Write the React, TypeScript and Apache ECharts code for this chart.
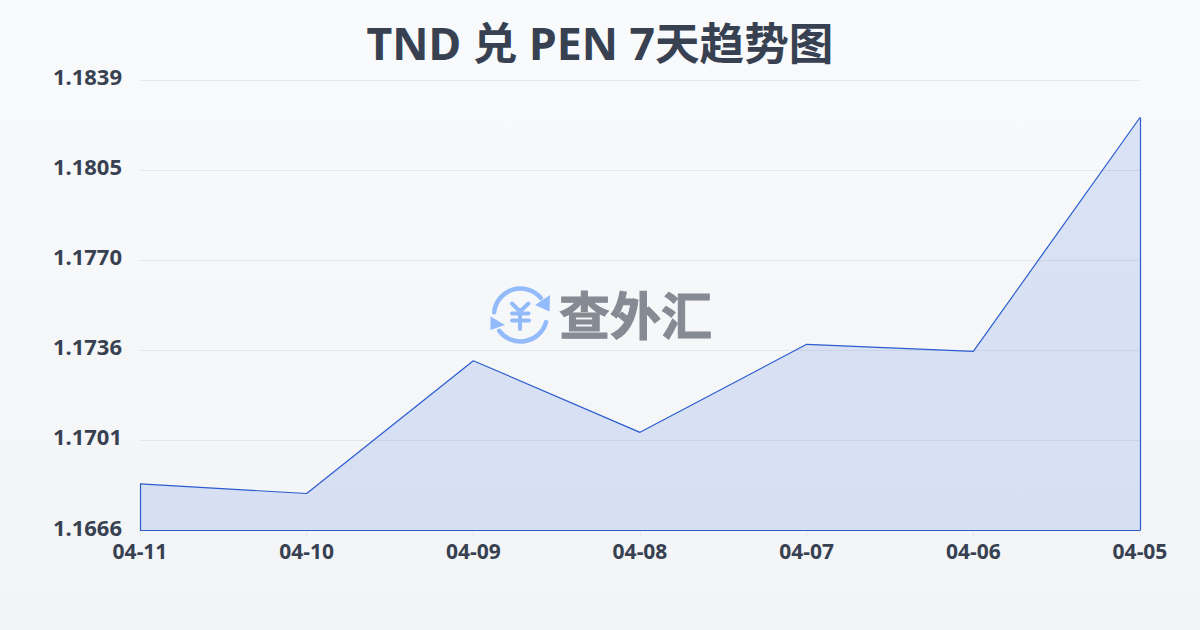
import React, { useEffect, useRef } from "react";
import * as echarts from "echarts";

const categories = ["04-11", "04-10", "04-09", "04-08", "04-07", "04-06", "04-05"];
const rates = [1.16842, 1.16805, 1.17315, 1.1704, 1.17378, 1.17351, 1.18249];
const yTicks = [1.16663, 1.17009, 1.17355, 1.17701, 1.18047, 1.18393];
const titleText = "TND 兑 PEN 7天趋势图";
const brandText = "查外汇";

const FONT = '"Noto Sans", "Noto Sans CJK SC", sans-serif';
const INK = "#374151";
const LINE = "#2a5cd0";
const ICON = "#93bbfb";

export default function App() {
  const ref = useRef<HTMLDivElement>(null);
  useEffect(() => {
    const chart = echarts.init(ref.current!, undefined, { renderer: "svg" });
    const yMin = yTicks[0];
    const yMax = yTicks[yTicks.length - 1];
    const last = categories.length - 1;
    const stroke = { stroke: ICON, lineWidth: 4.5, fill: "none", lineCap: "round" };
    const yenLine = (x1: number, y1: number, x2: number, y2: number) => ({
      type: "line",
      shape: { x1, y1, x2, y2 },
      style: { stroke: ICON, lineWidth: 4, lineCap: "round" },
      silent: true,
    });
    chart.setOption({
      animation: false,
      backgroundColor: {
        type: "linear",
        x: 0,
        y: 0,
        x2: 0,
        y2: 1,
        colorStops: [
          { offset: 0, color: "#f8fafc" },
          { offset: 1, color: "#f3f4f6" },
        ],
      },
      title: {
        text: titleText,
        left: "center",
        top: 15,
        textStyle: { color: INK, fontFamily: FONT, fontWeight: "bold", fontSize: 44.6 },
      },
      grid: { left: 140, right: 60, top: 80, bottom: 99.5 },
      xAxis: {
        type: "category",
        data: categories,
        boundaryGap: false,
        axisLine: { show: false },
        axisTick: { show: true, length: 6, lineStyle: { color: "#e5e7eb", width: 1 } },
        axisLabel: { color: INK, fontFamily: FONT, fontWeight: "bold", fontSize: 21, margin: 10, showMinLabel: true, showMaxLabel: true, interval: 0 },
        splitLine: { show: false },
      },
      yAxis: {
        type: "value",
        min: yMin,
        max: yMax,
        axisLine: { show: false },
        axisTick: { show: false, customValues: yTicks },
        axisLabel: {
          customValues: yTicks,
          color: INK,
          fontFamily: FONT,
          fontWeight: "bold",
          fontSize: 22,
          margin: 18,
          verticalAlign: "bottom",
          lineHeight: 8,
          formatter: (v: number) => v.toFixed(4),
        },
        splitLine: { show: true, lineStyle: { color: "#e5e7eb", width: 1 } },
      },
      series: [
        {
          type: "line",
          data: rates,
          symbol: "none",
          smooth: false,
          lineStyle: { color: LINE, width: 1.2 },
          areaStyle: { color: "#2a5fdc", opacity: 0.14, origin: "start" },
          markLine: {
            silent: true,
            symbol: "none",
            label: { show: false },
            lineStyle: { color: LINE, width: 1.2, type: "solid" },
            data: [
              [{ coord: [categories[0], yMin] }, { coord: [categories[last], yMin] }],
              [{ coord: [categories[0], yMin] }, { coord: [categories[0], rates[0]] }],
              [{ coord: [categories[last], yMin] }, { coord: [categories[last], rates[last]] }],
            ],
          },
        },
      ],
      graphic: [
        {
          type: "group",
          silent: true,
          z: 100,
          children: [
            { type: "arc", shape: { cx: 520.5, cy: 315, r: 26.5, startAngle: Math.PI + 0.1, endAngle: Math.PI * 2 - 0.7, clockwise: true }, style: stroke },
            { type: "arc", shape: { cx: 520.5, cy: 315, r: 26.5, startAngle: 0.27, endAngle: 2.5, clockwise: true }, style: stroke },
            { type: "polygon", shape: { points: [[550, 295], [549.5, 311.5], [535, 305]] }, style: { fill: ICON } },
            { type: "polygon", shape: { points: [[490.5, 316.5], [490.5, 330], [505, 325]] }, style: { fill: ICON } },
            yenLine(512, 303.5, 520, 311.5),
            yenLine(528.5, 303.5, 520, 311.5),
            yenLine(512, 313.5, 528.5, 313.5),
            yenLine(512, 320.5, 529, 320.5),
            yenLine(520, 311.5, 520, 329),
            {
              type: "text",
              x: 559,
              y: 313,
              style: {
                text: brandText,
                fill: "#858a93",
                stroke: "#858a93",
                lineWidth: 1,
                fontFamily: '"Noto Sans CJK SC", sans-serif',
                fontWeight: "bold",
                fontSize: 51,
                textAlign: "left",
                textVerticalAlign: "middle",
              },
            },
          ],
        },
      ],
    });
    return () => chart.dispose();
  }, []);
  return <div ref={ref} style={{ position: "absolute", left: 0, top: 0, width: 1200, height: 630 }} />;
}
